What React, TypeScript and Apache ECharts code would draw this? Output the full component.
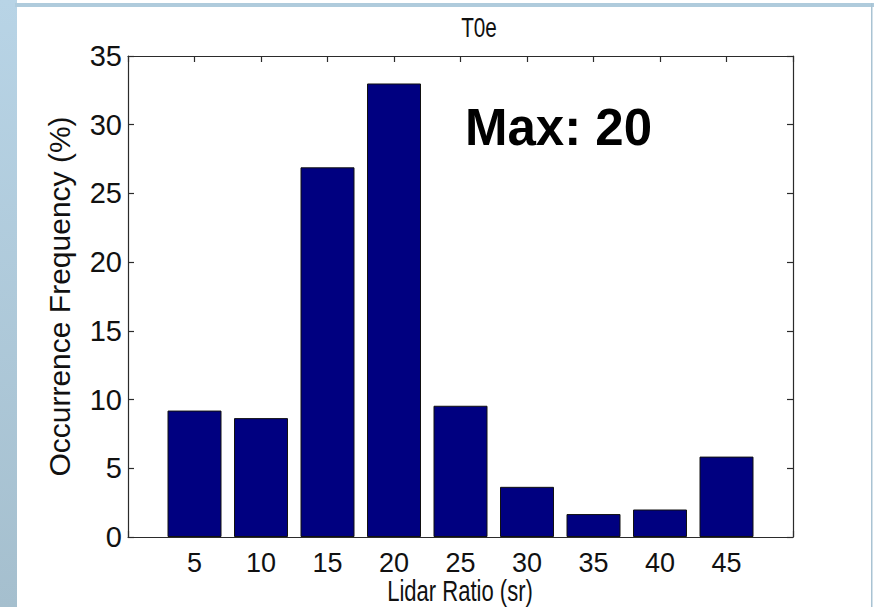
import React, { useEffect, useRef } from "react";
import * as echarts from "echarts";

// ---- data ----
const lidarRatios: number[] = [5, 10, 15, 20, 25, 30, 35, 40, 45];
const frequencies: number[] = [9.2, 8.65, 26.9, 33.0, 9.55, 3.65, 1.67, 2.0, 5.85];
const chartTitle = "T0e";
const xAxisName = "Lidar Ratio (sr)";
const yAxisName = "Occurrence Frequency (%)";
const annotation = "Max: 20";

const FONT = "'Liberation Sans', Arial, Helvetica, sans-serif";
const AXIS_COLOR = "#2b2b2b";

export default function App() {
  const ref = useRef<HTMLDivElement>(null);

  useEffect(() => {
    if (!ref.current) return;
    const chart = echarts.init(ref.current, undefined, { renderer: "svg" });

    const xBase = {
      type: "value" as const,
      min: 0,
      max: 50,
      interval: 5,
      axisLine: { show: true, onZero: false, lineStyle: { color: AXIS_COLOR, width: 1.2 } },
      axisTick: { show: true, inside: true, length: 6, lineStyle: { color: AXIS_COLOR, width: 1.2 } },
      splitLine: { show: false },
    };
    const yBase = {
      type: "value" as const,
      min: 0,
      max: 35,
      interval: 5,
      axisLine: { show: true, onZero: false, lineStyle: { color: AXIS_COLOR, width: 1.2 } },
      axisTick: { show: true, inside: true, length: 6, lineStyle: { color: AXIS_COLOR, width: 1.2 } },
      splitLine: { show: false },
    };

    chart.setOption({
      animation: false,
      backgroundColor: "#ffffff",
      grid: { left: 128, right: 81, top: 56, bottom: 70, containLabel: false },
      xAxis: [
        {
          ...xBase,
          position: "bottom",
          axisLabel: {
            show: true,
            margin: 12,
            fontFamily: FONT,
            fontSize: 27,
            color: "#111",
            formatter: (v: number) => (v === 0 || v === 50 ? "" : String(v)),
          },
        },
        { ...xBase, position: "top", axisLabel: { show: false } },
      ],
      yAxis: [
        {
          ...yBase,
          position: "left",
          name: yAxisName,
          nameLocation: "middle",
          nameGap: 54,
          nameRotate: 90,
          nameTextStyle: { fontFamily: FONT, fontSize: 30, color: "#111" },
          axisLabel: { show: true, margin: 6, fontFamily: FONT, fontSize: 29, color: "#111" },
        },
        { ...yBase, position: "right", axisLabel: { show: false } },
      ],
      graphic: [
        {
          type: "rect",
          shape: { x: 0, y: 0, width: 17, height: 607 },
          style: {
            fill: new echarts.graphic.LinearGradient(0, 0, 0, 1, [
              { offset: 0, color: "#b8d4e6" },
              { offset: 1, color: "#a5bfce" },
            ]),
          },
          silent: true,
        },
        {
          type: "rect",
          shape: { x: 15, y: 3, width: 859, height: 4 },
          style: { fill: "#afcbdc" },
          silent: true,
        },
        {
          type: "rect",
          shape: { x: 871, y: 3, width: 1.5, height: 604 },
          style: { fill: "#a9c3d3" },
          silent: true,
        },
        {
          type: "text",
          x: 479,
          y: 27,
          scaleX: 0.74,
          style: {
            text: chartTitle,
            fontFamily: FONT,
            fontSize: 28,
            fill: "#111",
            textAlign: "center",
            textVerticalAlign: "middle",
          },
          silent: true,
        },
        {
          type: "text",
          x: 460,
          y: 591,
          scaleX: 0.76,
          style: {
            text: xAxisName,
            fontFamily: FONT,
            fontSize: 29,
            fill: "#111",
            textAlign: "center",
            textVerticalAlign: "middle",
          },
          silent: true,
        },
        {
          type: "text",
          x: 465,
          y: 102,
          style: {
            text: annotation,
            fontFamily: FONT,
            fontSize: 51,
            fontWeight: "bold",
            fill: "#000",
          },
          silent: true,
        },
      ],
      series: [
        {
          type: "bar",
          xAxisIndex: 0,
          yAxisIndex: 0,
          barWidth: 54,
          data: lidarRatios.map((x, i) => [x, frequencies[i]]),
          itemStyle: { color: "#000080", borderColor: "#111", borderWidth: 1 },
        },
      ],
    });

    return () => chart.dispose();
  }, []);

  return (
    <div
      ref={ref}
      style={{ position: "fixed", left: 0, top: 0, width: 874, height: 607, background: "#fff" }}
    />
  );
}
